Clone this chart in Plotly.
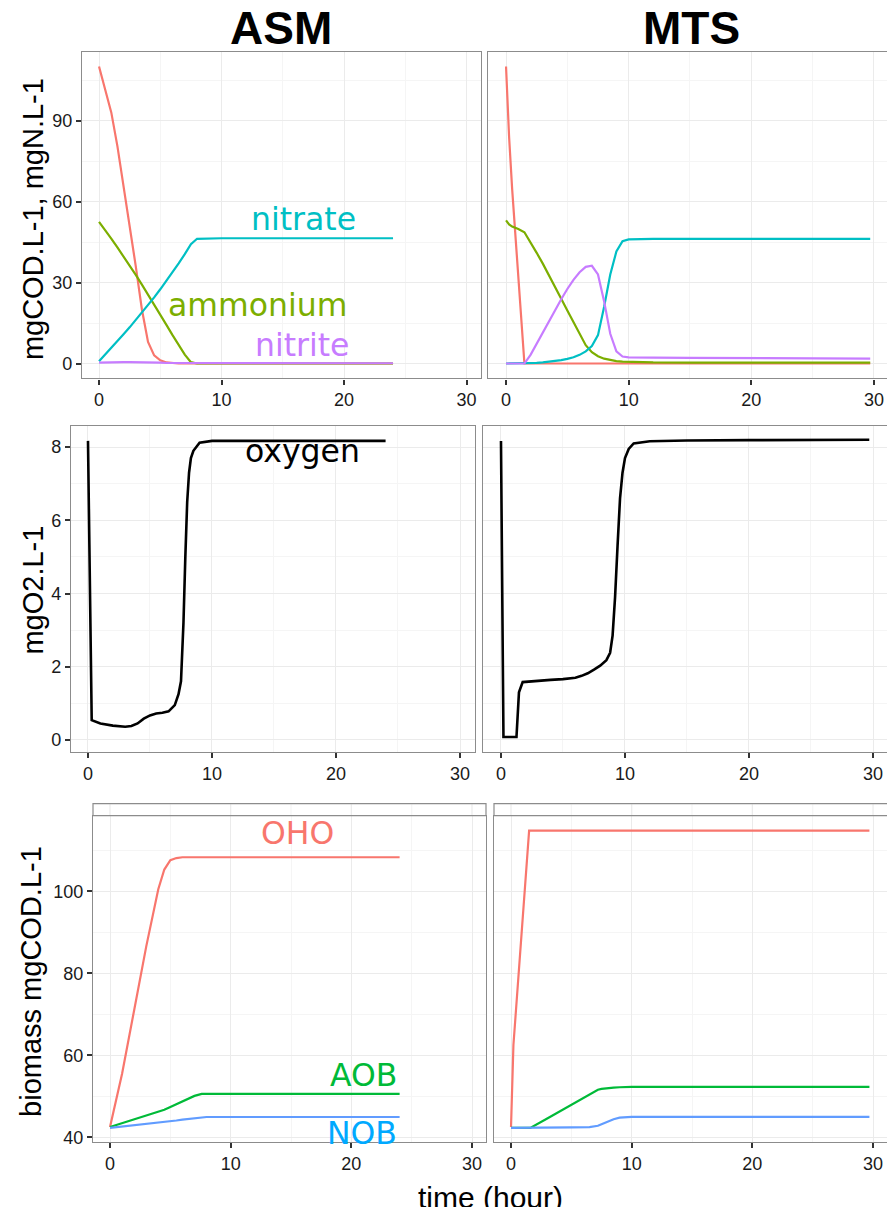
import plotly.graph_objects as go

# ---------------- data ----------------
# Row 1: soluble components, ASM
t_asm_n = [0, 0.5, 1, 1.5, 2, 2.5, 3, 3.5, 4, 4.5, 5, 5.5, 6, 6.5, 7, 7.5, 8, 9, 10, 12, 16, 20, 24]
cod_asm = [110, 102, 93, 80.5, 66, 51, 36, 20, 8, 3, 1.2, 0.4, 0.1, 0, 0, 0, 0, 0, 0, 0, 0, 0, 0]
nh4_asm = [52.5, 49.5, 46.3, 43, 39.7, 36.3, 32.8, 29.2, 25.6, 21.9, 18.1, 14.3, 10.5, 6.8, 3.3, 0.5, 0, 0, 0, 0, 0, 0, 0]
no3_asm = [0.8, 3.2, 5.7, 8.2, 10.8, 13.4, 16.1, 18.8, 21.6, 24.5, 27.5, 30.6, 33.8, 37.1, 40.5, 44.2, 46.2, 46.4, 46.4, 46.4, 46.4, 46.4, 46.4]
no2_asm = [0.3, 0.4, 0.5, 0.5, 0.5, 0.5, 0.5, 0.4, 0.4, 0.3, 0.3, 0.2, 0.2, 0.1, 0.1, 0.1, 0.1, 0.1, 0.1, 0.1, 0.1, 0.1, 0.1]

# Row 1: soluble components, MTS
t_mts_n = [0, 0.25, 0.5, 1, 1.5, 2, 2.5, 3, 3.5, 4, 4.5, 5, 5.5, 6, 6.5, 7, 7.5, 8, 8.5, 9, 9.5, 10, 11, 12, 15, 20, 25, 29.7]
cod_mts = [110, 84, 64.6, 32.3, 0, 0, 0, 0, 0, 0, 0, 0, 0, 0, 0, 0, 0, 0, 0, 0, 0, 0, 0, 0, 0, 0, 0, 0]
nh4_mts = [53, 51.5, 50.7, 49.8, 48.6, 45, 41, 37, 32.8, 28.5, 24, 19.6, 15.2, 10.8, 6.8, 4.2, 2.7, 1.8, 1.3, 0.9, 0.7, 0.6, 0.45, 0.4, 0.35, 0.3, 0.3, 0.3]
no3_mts = [0, 0, 0, 0, 0, 0.1, 0.25, 0.4, 0.6, 0.9, 1.25, 1.7, 2.3, 3.2, 4.5, 6.5, 10.5, 21, 33, 41.5, 45.3, 46, 46.1, 46.2, 46.2, 46.2, 46.2, 46.2]
no2_mts = [0, 0, 0, 0, 0, 3.2, 7.4, 11.5, 15.6, 19.8, 23.8, 27.6, 31, 33.8, 35.8, 36.2, 33, 23, 11, 4.5, 2.6, 2.3, 2.2, 2.15, 2.1, 2.0, 1.9, 1.8]

# Row 2: oxygen
t_asm_o = [0, 0.3, 1, 2, 3, 3.5, 4, 4.5, 5, 5.5, 6, 6.5, 7, 7.3, 7.5, 7.7, 7.85, 8.0, 8.15, 8.3, 8.5, 9, 10, 12, 16, 20, 24]
o2_asm = [8.17, 0.54, 0.45, 0.39, 0.36, 0.38, 0.45, 0.58, 0.67, 0.72, 0.74, 0.78, 0.95, 1.25, 1.6, 3.2, 5.0, 6.5, 7.3, 7.7, 7.9, 8.12, 8.17, 8.17, 8.17, 8.17, 8.17]
t_mts_o = [0, 0.2, 1.25, 1.45, 1.75, 3, 4, 5, 6, 6.5, 7, 7.5, 8, 8.5, 8.8, 9, 9.2, 9.4, 9.6, 9.8, 10, 10.3, 10.7, 12, 15, 20, 25, 29.7]
o2_mts = [8.17, 0.08, 0.08, 1.3, 1.58, 1.62, 1.64, 1.66, 1.7, 1.75, 1.82, 1.92, 2.03, 2.18, 2.38, 2.85, 3.9, 5.3, 6.6, 7.3, 7.7, 7.95, 8.1, 8.16, 8.18, 8.19, 8.2, 8.2]

# Row 3: biomass
t_asm_b = [0, 1, 2, 3, 4, 4.5, 5, 5.5, 6, 7, 7.6, 8, 10, 12, 16, 20, 24]
oho_asm = [42.5, 55.5, 71, 86.5, 100.5, 105.3, 107.6, 108.1, 108.3, 108.3, 108.3, 108.3, 108.3, 108.3, 108.3, 108.3, 108.3]
aob_asm = [42.5, 43.4, 44.3, 45.2, 46.1, 46.7, 47.4, 48.1, 48.9, 50.1, 50.6, 50.6, 50.6, 50.6, 50.6, 50.6, 50.6]
nob_asm = [42.3, 42.6, 42.9, 43.2, 43.5, 43.7, 43.9, 44.1, 44.3, 44.7, 44.95, 44.95, 44.95, 44.95, 44.95, 44.95, 44.95]
t_mts_b = [0, 0.2, 1.5, 1.6, 3, 5, 6.5, 7, 7.2, 7.5, 8, 8.5, 9, 9.5, 10, 12, 15, 20, 25, 29.7]
oho_mts = [42.5, 62.5, 114.8, 114.8, 114.8, 114.8, 114.8, 114.8, 114.8, 114.8, 114.8, 114.8, 114.8, 114.8, 114.8, 114.8, 114.8, 114.8, 114.8, 114.8]
aob_mts = [42.3, 42.3, 42.3, 42.3, 44.6, 47.9, 50.4, 51.3, 51.6, 51.8, 52.0, 52.1, 52.2, 52.25, 52.3, 52.3, 52.3, 52.3, 52.3, 52.3]
nob_mts = [42.3, 42.3, 42.3, 42.3, 42.3, 42.4, 42.5, 42.7, 42.8, 43.2, 43.8, 44.4, 44.8, 44.95, 45, 45, 45, 45, 45, 45]

col_titles = ["ASM", "MTS"]
y_titles = ["mgCOD.L-1, mgN.L-1", "mgO2.L-1", "biomass mgCOD.L-1"]
x_title = "time (hour)"

# ---------------- styling ----------------
OFF = 8                      # default page body margin
W, H = 895 - OFF, 1207 - OFF
FONT = "Liberation Sans, Arial, Helvetica, sans-serif"
LFONT = "DejaVu Sans, Verdana, sans-serif"
C_COD, C_NH4, C_NO3, C_NO2 = "#F8766D", "#7CAE00", "#00BFC4", "#C77CFF"
C_OHO, C_AOB, C_NOB = "#F8766D", "#00BA38", "#619CFF"


def px(p):
    return (p - OFF) / W


def py(p):
    return 1 - (p - OFF) / H


# panel pixel boxes (page pixels): (left, right, top, bottom), x range, y range, y dtick, show y labels
panels = [
    (82, 481, 52, 380, [-1.39, 31.18], [-5.53, 115.45], 30, True),
    (488, 888, 52, 380, [-1.47, 31.15], [-5.53, 115.45], 30, False),
    (71, 475, 428, 755, [-1.37, 31.21], [-0.327, 8.57], 2, True),
    (483, 888, 428, 755, [-1.45, 31.21], [-0.327, 8.57], 2, False),
    (93, 486, 819, 1147, [-1.41, 31.16], [38.79, 118.45], 20, True),
    (494, 888, 819, 1147, [-1.41, 31.24], [38.79, 118.45], 20, False),
]

fig = go.Figure()

series = [
    (1, t_asm_n, [(cod_asm, C_COD), (nh4_asm, C_NH4), (no3_asm, C_NO3), (no2_asm, C_NO2)]),
    (2, t_mts_n, [(cod_mts, C_COD), (nh4_mts, C_NH4), (no3_mts, C_NO3), (no2_mts, C_NO2)]),
    (3, t_asm_o, [(o2_asm, "black")]),
    (4, t_mts_o, [(o2_mts, "black")]),
    (5, t_asm_b, [(oho_asm, C_OHO), (aob_asm, C_AOB), (nob_asm, C_NOB)]),
    (6, t_mts_b, [(oho_mts, C_OHO), (aob_mts, C_AOB), (nob_mts, C_NOB)]),
]
for idx, t, lines in series:
    for ys, c in lines:
        fig.add_trace(go.Scatter(
            x=t, y=ys, mode="lines",
            line=dict(color=c, width=2.6 if c == "black" else 2.2),
            xaxis="x" if idx == 1 else f"x{idx}",
            yaxis="y" if idx == 1 else f"y{idx}",
            showlegend=False, hoverinfo="skip"))

layout = dict(
    width=W, height=H, margin=dict(l=0, r=0, t=0, b=0),
    paper_bgcolor="white", plot_bgcolor="white",
    font=dict(family=FONT, color="#111"),
    showlegend=False,
)
shapes = []
for i, (l, r, t, b, xr, yr, ydt, showy) in enumerate(panels, start=1):
    sx = "" if i == 1 else str(i)
    layout["xaxis" + sx] = dict(
        domain=[px(l), px(r)], range=xr, anchor="y" + sx,
        tick0=0, dtick=10, ticks="outside", ticklen=5, tickwidth=2, tickcolor="#333",
        showline=True, mirror=True, linecolor="#8c8c8c", linewidth=1.2,
        showgrid=True, gridcolor="#EBEBEB", gridwidth=1.2, zeroline=False,
        minor=dict(dtick=5, tick0=0, showgrid=True, gridcolor="#F5F5F5", gridwidth=1),
        tickfont=dict(size=18, color="#1a1a1a", family=FONT),
    )
    layout["yaxis" + sx] = dict(
        domain=[py(b), py(t)], range=yr, anchor="x" + sx,
        tick0=0, dtick=ydt,
        ticks="outside" if showy else "", ticklen=5, tickwidth=2, tickcolor="#333",
        showticklabels=showy,
        showline=True, mirror=True, linecolor="#8c8c8c", linewidth=1.2,
        showgrid=True, gridcolor="#EBEBEB", gridwidth=1.2, zeroline=False,
        minor=dict(dtick=ydt / 2, tick0=0, showgrid=True, gridcolor="#F5F5F5", gridwidth=1),
        tickfont=dict(size=18, color="#1a1a1a", family=FONT),
    )
    if i >= 5:
        # empty strip box on top of the biomass panels
        shapes.append(dict(type="rect", xref="paper", yref="paper",
                           x0=px(l), x1=px(r), y0=py(819), y1=py(807),
                           line=dict(color="#8c8c8c", width=1.2), fillcolor="rgba(0,0,0,0)"))
        for gx in range(-1, 7):
            xv = gx * 5
            if xr[0] < xv < xr[1]:
                xp = px(l) + (xv - xr[0]) / (xr[1] - xr[0]) * (px(r) - px(l))
                shapes.append(dict(type="line", xref="paper", yref="paper",
                                   x0=xp, x1=xp, y0=py(818.5), y1=py(807.5), layer="below",
                                   line=dict(color="#EBEBEB" if xv % 10 == 0 else "#F5F5F5", width=1.2)))
layout["shapes"] = shapes

ann = []
# column titles
for txt, cx in zip(col_titles, [281, 691]):
    ann.append(dict(text=f"<b>{txt}</b>", x=px(cx), y=py(28), xref="paper", yref="paper",
                    showarrow=False, xanchor="center", yanchor="middle",
                    font=dict(size=46, family=FONT, color="black")))
# y titles
for txt, cx, cy in zip(y_titles, [33, 33, 31], [220, 593, 986]):
    ann.append(dict(text=txt, x=px(cx), y=py(cy), xref="paper", yref="paper",
                    showarrow=False, textangle=-90, xanchor="center", yanchor="middle",
                    font=dict(size=29, family=FONT, color="black")))
ann.append(dict(text=x_title, x=px(490), y=py(1184), xref="paper", yref="paper",
                showarrow=False, xanchor="center", yanchor="top",
                font=dict(size=30, family=FONT, color="black")))
# in-panel labels
labels = [
    ("nitrate", 16.7, 53.5, C_NO3, "x", "y"),
    ("ammonium", 12.9, 21.8, C_NH4, "x", "y"),
    ("nitrite", 16.6, 7.0, C_NO2, "x", "y"),
    ("oxygen", 17.3, 7.89, "black", "x3", "y3"),
    ("OHO", 15.5, 114.1, C_OHO, "x5", "y5"),
    ("AOB", 21.0, 55.1, C_AOB, "x5", "y5"),
    ("NOB", 20.9, 41.0, "#00A9FF", "x5", "y5"),
]
for txt, x, y, c, xr, yr in labels:
    ann.append(dict(text=txt, x=x, y=y, xref=xr, yref=yr, showarrow=False,
                    xanchor="center", yanchor="middle",
                    font=dict(size=31.5, family=LFONT, color=c)))
layout["annotations"] = ann

fig.update_layout(**layout)
fig.write_html("out.html")
